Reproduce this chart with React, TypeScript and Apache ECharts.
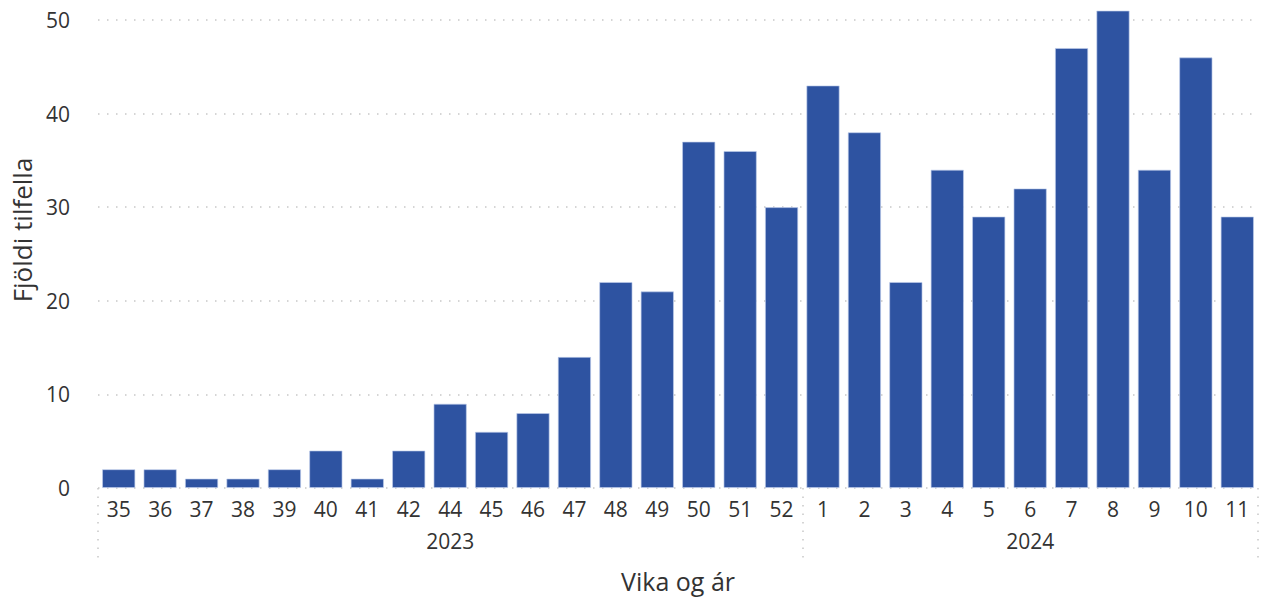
import React, { useEffect, useRef } from "react";
import * as echarts from "echarts";

const weeks = ["35","36","37","38","39","40","41","42","44","45","46","47","48","49","50","51","52","1","2","3","4","5","6","7","8","9","10","11"];
const cases = [2,2,1,1,2,4,1,4,9,6,8,14,22,21,37,36,30,43,38,22,34,29,32,47,51,34,46,29];
const years = ["2023", "2024"];
const weeksPerYear = [17, 11];
const yTicks = [0, 10, 20, 30, 40, 50];

const FONT = "'Segoe UI', 'Open Sans', sans-serif";
const TEXT = "#333333";

export default function App() {
  const ref = useRef<HTMLDivElement>(null);
  useEffect(() => {
    if (!ref.current) return;
    const chart = echarts.init(ref.current, null, { renderer: "svg" });
    const bounds: number[] = [0];
    weeksPerYear.forEach((n) => bounds.push(bounds[bounds.length - 1] + n));
    const yearCenters = years.map((_, i) => (bounds[i] + bounds[i + 1]) / 2);
    chart.setOption({
      animation: false,
      textStyle: { fontFamily: FONT },
      grid: { left: 98, right: 16, top: 20, bottom: 112 },
      xAxis: [
        {
          type: "category",
          data: weeks,
          position: "bottom",
          axisLine: { show: false },
          axisTick: { show: false },
          axisLabel: { color: TEXT, fontSize: 21, margin: 10, fontFamily: FONT, interval: 0 },
        },
        {
          type: "value",
          min: 0,
          max: weeks.length,
          position: "bottom",
          axisLine: { show: false },
          splitLine: { show: false },
          axisTick: {
            show: true,
            customValues: bounds,
            length: 72,
            lineStyle: { color: "#c8c8c8", type: [1.5, 7], width: 1.5 },
          },
          axisLabel: {
            customValues: yearCenters,
            color: TEXT,
            fontSize: 21,
            margin: 42,
            fontFamily: FONT,
            formatter: (v: number) => {
              const i = yearCenters.indexOf(v);
              return i >= 0 ? years[i] : "";
            },
          },
          name: "Vika og ár",
          nameLocation: "middle",
          nameGap: 80,
          nameTextStyle: { color: TEXT, fontSize: 25, fontFamily: FONT },
        },
      ],
      yAxis: {
        type: "value",
        min: yTicks[0],
        max: yTicks[yTicks.length - 1],
        interval: 10,
        axisLine: { show: false },
        axisTick: { show: false },
        axisLabel: { color: TEXT, fontSize: 21, margin: 28, fontFamily: FONT },
        splitLine: { show: true, lineStyle: { color: "#c8c8c8", type: [1.5, 7.5], width: 1.5 } },
        name: "Fjöldi tilfella",
        nameLocation: "middle",
        nameRotate: 90,
        nameGap: 62,
        nameTextStyle: { color: TEXT, fontSize: 26, fontFamily: FONT, padding: [0, 0, 0, 48] },
      },
      series: [
        {
          type: "bar",
          xAxisIndex: 0,
          data: cases,
          clip: false,
          barCategoryGap: "20%",
          itemStyle: { color: "#2E53A1", borderColor: "rgba(190,205,235,0.8)", borderWidth: 0.8 },
        },
      ],
    });
    return () => chart.dispose();
  }, []);
  return <div ref={ref} style={{ width: 1274, height: 600, position: "absolute", left: 0, top: 0 }} />;
}
